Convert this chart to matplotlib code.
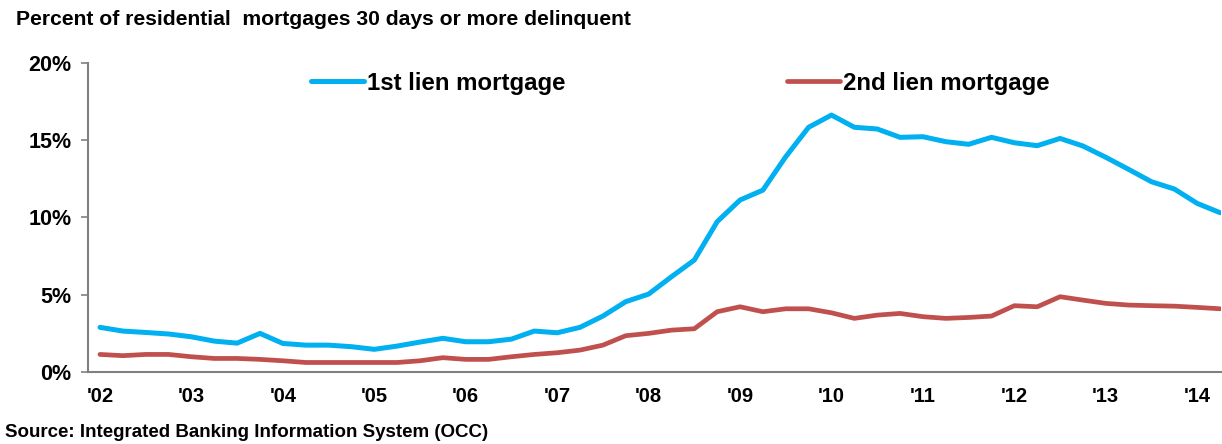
import matplotlib
matplotlib.use('Agg')
import matplotlib.pyplot as plt
import numpy as np

plt.rcParams.update({
    'font.family': ['Liberation Sans', 'DejaVu Sans'],
    'axes.spines.top': False,
    'axes.spines.right': False,
})

# quarterly observations, 2002 Q1 through 2014 Q2
first_lien = [2.89, 2.65, 2.56, 2.46, 2.28, 2.00, 1.87, 2.50, 1.85, 1.74,
              1.74, 1.64, 1.47, 1.68, 1.94, 2.18, 1.96, 1.96, 2.13, 2.65,
              2.54, 2.89, 3.62, 4.55, 5.04, 6.16, 7.24, 9.72, 11.12, 11.76,
              13.92, 15.82, 16.61, 15.82, 15.71, 15.17, 15.21, 14.89, 14.72, 15.17,
              14.82, 14.63, 15.10, 14.61, 13.88, 13.10, 12.30, 11.83, 10.90, 10.30]
second_lien = [1.14, 1.06, 1.14, 1.14, 0.99, 0.88, 0.88, 0.82, 0.73, 0.62,
               0.62, 0.62, 0.62, 0.62, 0.73, 0.93, 0.82, 0.82, 0.99, 1.14,
               1.25, 1.42, 1.74, 2.35, 2.50, 2.71, 2.80, 3.90, 4.22, 3.90,
               4.09, 4.09, 3.83, 3.47, 3.68, 3.79, 3.58, 3.47, 3.53, 3.62,
               4.29, 4.22, 4.87, 4.65, 4.44, 4.33, 4.29, 4.26, 4.18, 4.09]
year_labels = ["'02", "'03", "'04", "'05", "'06", "'07", "'08",
               "'09", "'10", "'11", "'12", "'13", "'14"]
y_ticks = [0, 5, 10, 15, 20]

BLUE = '#00B0F0'
RED = '#C0504D'
GREY = '#808080'

fig = plt.figure(figsize=(12.22, 4.44), dpi=100)
ax = fig.add_axes([0.072, 0.162, 0.927, 0.697])

x = np.arange(len(first_lien))
ax.plot(x, first_lien, color=BLUE, lw=3.6, solid_capstyle='round',
        solid_joinstyle='round', label='1st lien mortgage')
ax.plot(x, second_lien, color=RED, lw=3.4, solid_capstyle='round',
        solid_joinstyle='round', label='2nd lien mortgage')

ax.set_xlim(-0.525, 49.03)
ax.set_ylim(0, 20)
ax.set_yticks(y_ticks)
ax.set_yticklabels([f'{v}%' for v in y_ticks], fontsize=15.5, fontweight='bold')
ax.set_xticks(np.arange(0, len(first_lien), 4))
ax.set_xticklabels(year_labels, fontsize=14.5, fontweight='bold')
ax.tick_params(axis='x', length=0, pad=11)
ax.tick_params(axis='y', length=5, width=1.2, color=GREY, pad=7)
for side in ('left', 'bottom'):
    ax.spines[side].set_color(GREY)
    ax.spines[side].set_linewidth(1.5)

leg = ax.legend(loc='center left', bbox_to_anchor=(0.197, 0.934), ncol=2,
                frameon=False, fontsize=17.3, handlelength=2.2, handletextpad=0.13,
                columnspacing=9.2, borderpad=0, borderaxespad=0)
for t in leg.get_texts():
    t.set_fontweight('bold')

fig.text(0.013, 0.955, 'Percent of residential  mortgages 30 days or more delinquent',
         fontsize=15.2, fontweight='bold', va='center', ha='left')
fig.text(0.004, 0.025, 'Source: Integrated Banking Information System (OCC)',
         fontsize=13.5, fontweight='bold', va='center', ha='left')

fig.savefig('out.png', dpi=100)
